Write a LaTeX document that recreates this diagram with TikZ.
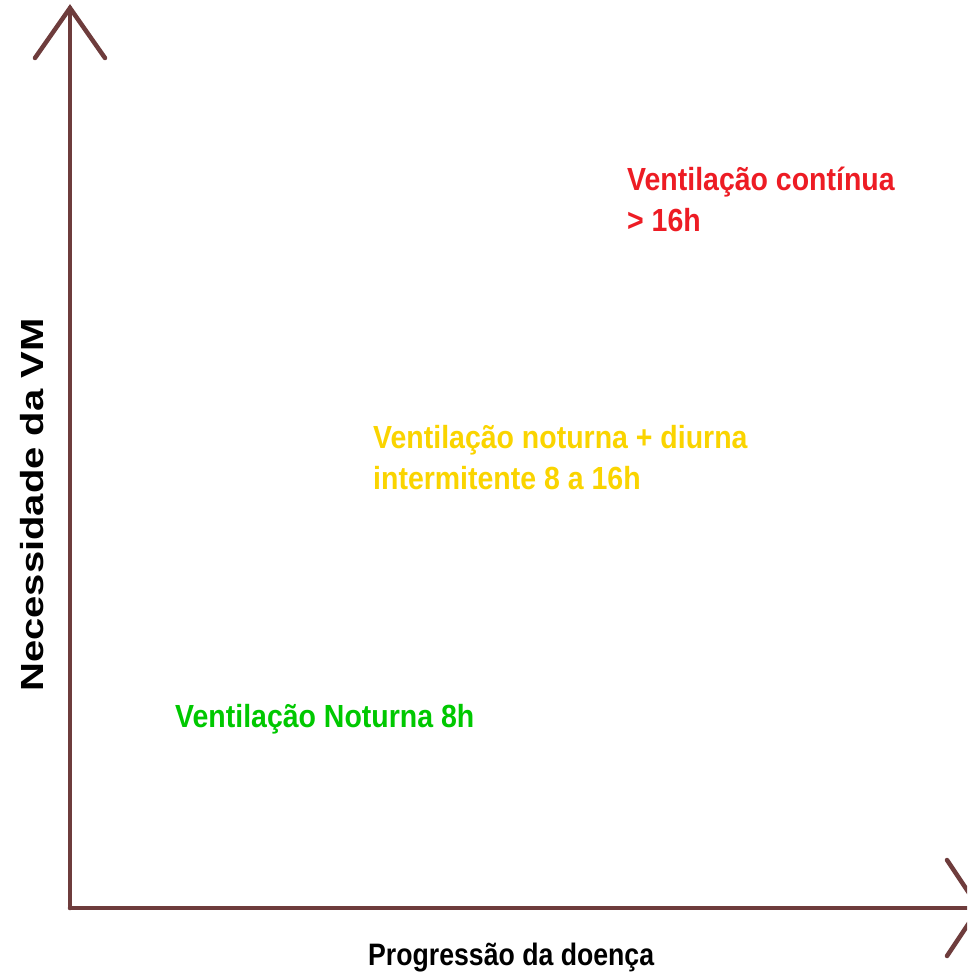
\documentclass[tikz,border=0pt]{standalone}
\usepackage{fontspec}
\setmainfont{Liberation Sans}
\newfontfamily\narrowfont{Liberation Sans}[FakeStretch=0.89]
\newfontfamily\xlabfont{Liberation Sans}[FakeStretch=0.86]
\newfontfamily\ylabfont{Liberation Sans}[FakeStretch=1.25]
\definecolor{axisbrown}{RGB}{110,60,60}
\definecolor{vred}{RGB}{237,28,36}
\definecolor{vyellow}{RGB}{250,212,0}
\definecolor{vgreen}{RGB}{0,200,0}
\begin{document}
\begin{tikzpicture}
        [
          x=1pt, y=-1pt,
          axis/.style={draw=axisbrown,line width=4.5pt,line cap=round,line join=miter},
          phase/.style={anchor=base west,inner sep=0pt,align=left,
            font=\narrowfont\bfseries\fontsize{32}{41}\selectfont}
        ]
        \useasboundingbox (0,0) rectangle (967,977);
        \clip (0,0) rectangle (967,977);
        % axes
        \coordinate (O) at (70,908);
        \coordinate (ytip) at (70,8);
        \coordinate (xtip) at (979,908);
        \draw [axis] (O) -- (ytip);
        \draw [axis] (35,58) -- (ytip) -- (105,58);
        \draw [axis] (O) -- (xtip);
        \draw [axis] (947,860) -- (xtip) -- (947,956);
        % axis labels
        \node [anchor=base west,inner sep=0pt,rotate=90,
          font=\ylabfont\bfseries\fontsize{32}{40}\selectfont] (ylab) at (43,692) {Necessidade da VM};
        \node [anchor=base west,inner sep=0pt,
          font=\xlabfont\bfseries\fontsize{31}{40}\selectfont] (xlab) at (368,965) {Progressão da doença};
        % phases (base = last line)
        \node [phase,text=vred] (cont) at (627,231) {Ventilação contínua\\> 16h};
        \node [phase,text=vyellow] (inter) at (373,489) {Ventilação noturna + diurna\\intermitente 8 a 16h};
        \node [phase,text=vgreen] (noct) at (175,727) {Ventilação Noturna 8h};
\end{tikzpicture}
\end{document}
